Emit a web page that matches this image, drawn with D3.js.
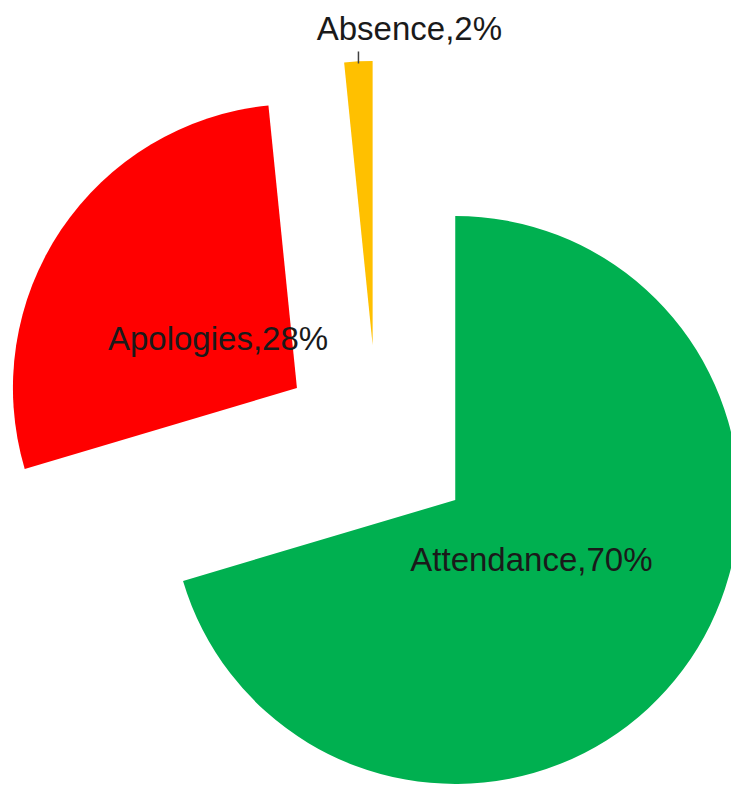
<!DOCTYPE html>
<html>
<head>
<meta charset="utf-8">
<script src="https://cdn.jsdelivr.net/npm/d3@7"></script>
<style>
	body { margin: 0; background: #ffffff; }
	svg { display: block; }
	.slice_label { font-family: "Liberation Sans", Arial, sans-serif; font-size: 33px; fill: #1a1a1a; }
</style>
</head>
<body>
<div id="chart"></div>
<script>
var categories = ["Attendance", "Apologies", "Absence"];
var values = [70.4, 28.0, 1.6];
var colors = ["#00B050", "#FF0000", "#FFC000"];

var width = 731;
var height = 787;
var radius = 284;
var explode = 97;
var center = { x: 377.5, y: 442 };

var data = [];
for(var i = 0; i < categories.length; i++) {
	data.push({ name: categories[i], value: values[i], color: colors[i] });
}
var total = d3.sum(values);

var pie = d3.pie()
	.sort(null)
	.value(function(d) { return d.value; });
var arcs = pie(data);

var arc = d3.arc().innerRadius(0).outerRadius(radius);
var label_arc = d3.arc().innerRadius(95).outerRadius(95);

// offset of each exploded slice along its middle angle
function offset(d, dist) {
	var a = (d.startAngle + d.endAngle) / 2;
	return [Math.sin(a) * dist, -Math.cos(a) * dist];
}

var svg = d3.select("#chart").append("svg")
	.attr("width", width)
	.attr("height", height);

var g = svg.append("g")
	.attr("transform", "translate(" + center.x + "," + center.y + ")");

var slices = g.selectAll("g.slice")
	.data(arcs)
	.enter()
	.append("g")
	.attr("class", "slice")
	.attr("transform", function(d) {
		var o = offset(d, explode);
		return "translate(" + o[0] + "," + o[1] + ")";
	});

slices.append("path")
	.attr("d", arc)
	.attr("fill", function(d) { return d.data.color; });

function label_text(d) {
	return d.data.name + "," + Math.round(d.data.value / total * 100) + "%";
}

// inside labels for the big slices
slices.filter(function(d) { return d.data.value / total > 0.05; })
	.append("text")
	.attr("class", "slice_label")
	.attr("text-anchor", "middle")
	.attr("dy", "0.44em")
	.attr("transform", function(d) {
		var c = label_arc.centroid(d);
		return "translate(" + c[0] + "," + c[1] + ")";
	})
	.text(label_text);

// small slice: label outside with a leader line
var small = slices.filter(function(d) { return d.data.value / total <= 0.05; });
small.append("line")
	.attr("x1", function(d) { return offset(d, radius - 2)[0]; })
	.attr("y1", function(d) { return offset(d, radius - 2)[1]; })
	.attr("x2", function(d) { return offset(d, radius - 2)[0]; })
	.attr("y2", function(d) { return offset(d, radius - 2)[1] - 12; })
	.attr("stroke", "#404040")
	.attr("stroke-width", 1.5);
small.append("text")
	.attr("class", "slice_label")
	.attr("text-anchor", "middle")
	.attr("x", function(d) { return offset(d, radius)[0] + 51; })
	.attr("y", function(d) { return offset(d, radius)[1] - 21; })
	.text(label_text);
</script>
</body>
</html>
